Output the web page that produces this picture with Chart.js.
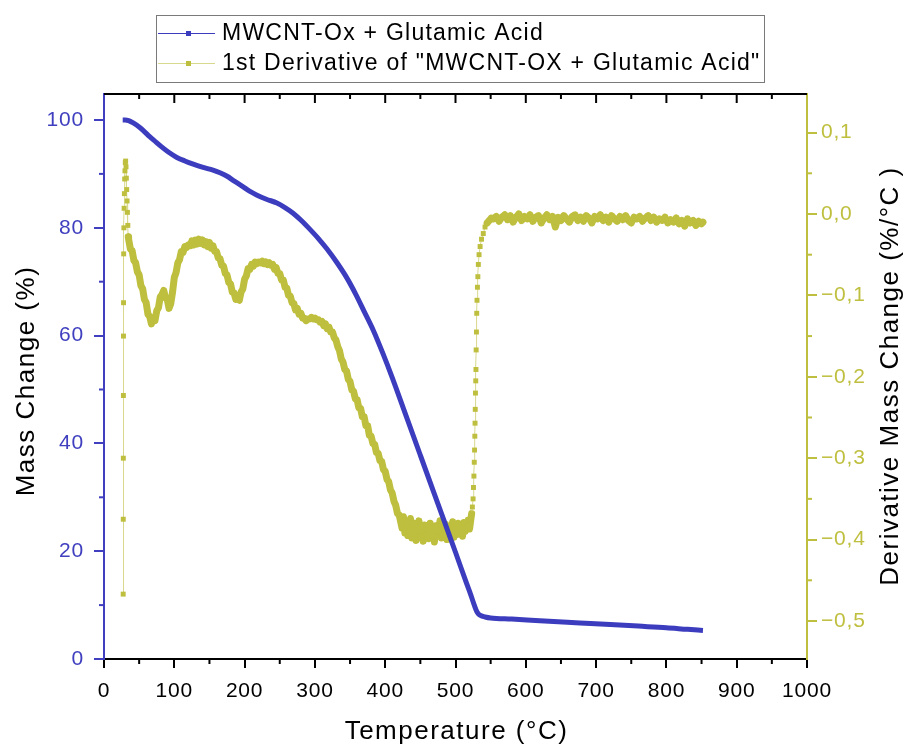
<!DOCTYPE html>
<html><head><meta charset="utf-8">
<script src="https://cdn.jsdelivr.net/npm/chart.js@4.4.1/dist/chart.umd.min.js"></script>
<style>html,body{margin:0;padding:0;background:#fff;overflow:hidden;}canvas{display:block;}</style>
</head><body>
<canvas id="c" width="905" height="747"></canvas>
<script>
// ---------- DATA ----------
const seriesNames = ['MWCNT-Ox + Glutamic Acid', '1st Derivative of "MWCNT-OX + Glutamic Acid"'];
const xTitle = 'Temperature (°C)';
const yTitle = 'Mass Change (%)';
const y2Title = 'Derivative Mass Change (%/°C )';

const xTicks = [0,100,200,300,400,500,600,700,800,900,1000];
const xMinor = [50,150,250,350,450,550,650,750,850,950];
const leftTicks = [0,20,40,60,80,100];
const leftMinor = [10,30,50,70,90];
const rightTicks = [0.1,0,-0.1,-0.2,-0.3,-0.4,-0.5];
const rightMinor = [0.05,-0.05,-0.15,-0.25,-0.35,-0.45];

const massTemp = [26.6,30,35,41,50,57,65,74,82,92,
  103,115,127,141,155,165,174.5,186,198,207,
  217,231,246,258,269,281,293,305,317,331,
  345,358,370,383,397,410,430,450,470,485,
  500,515,522,527,530,533,537,542,550,580,
  620,677,720,760,800,830,852];
const massVal = [100.0,100.0,99.9,99.5,98.7,97.9,96.9,95.9,95.0,94.0,
  93.1,92.4,91.8,91.2,90.7,90.2,89.6,88.6,87.6,86.8,
  86.1,85.3,84.6,83.7,82.7,81.3,79.7,78.0,76.1,73.6,
  70.8,67.7,64.5,61.0,56.6,52.2,45.0,37.8,30.6,25.2,
  19.8,14.3,11.8,9.9,8.9,8.3,8.0,7.8,7.6,7.4,
  7.1,6.7,6.4,6.1,5.8,5.5,5.3];

const derivTemp = [
  27.3,27.4,27.5,27.6,27.7,27.8,28.0,28.3,28.6,29.0,
  29.4,29.8,30.3,30.8,31.3,31.8,32.3,32.8,33.3,33.9,
  34.5,
  35,37.5,40,42.5,45,47.5,50,52.5,55,57.5,
  60,62.5,65,67.5,70,72.5,75,77.5,80,82.5,
  85,87.5,90,92.5,95,97.5,100,102.5,105,107.5,
  110,112.5,115,117.5,120,122.5,125,127.5,130,132.5,
  135,137.5,140,142.5,145,147.5,150,152.5,155,157.5,
  160,162.5,165,167.5,170,172.5,175,177.5,180,182.5,
  185,187.5,190,192.5,195,197.5,200,202.5,205,207.5,
  210,212.5,215,217.5,220,222.5,225,227.5,230,232.5,
  235,237.5,240,242.5,245,247.5,250,252.5,255,257.5,
  260,262.5,265,267.5,270,272.5,275,277.5,280,282.5,
  285,287.5,290,292.5,295,297.5,300,302.5,305,307.5,
  310,312.5,315,317.5,320,322.5,325,327.5,330,332.5,
  335,337.5,340,342.5,345,347.5,350,352.5,355,357.5,
  360,362.5,365,367.5,370,372.5,375,377.5,380,382.5,
  385,387.5,390,392.5,395,397.5,400,402.5,405,407.5,
  410,412.5,415,417.5,420,
  422,424,426,428,430,432,434,436,438,440,
  442,444,446,448,450,452,454,456,458,460,
  462,464,466,468,470,472,474,476,478,480,
  482,484,486,488,490,492,494,496,498,500,
  502,504,506,508,510,512,514,516,518,520,
  522,
  523,524,525,525.6,526.2,526.7,527.1,527.5,527.8,528.1,
  528.4,528.8,529.1,529.4,529.8,530.2,530.6,531.2,531.8,532.5,
  533.5,535,537,539.5,542,545,548,551,
  554,558,562,566,570,574,578,582,586,590,
  594,598,602,606,610,614,618,622,626,630,
  634,638,642,646,650,654,658,662,666,670,
  674,678,682,686,690,694,698,702,706,710,
  714,718,722,726,730,734,738,742,746,750,
  754,758,762,766,770,774,778,782,786,790,
  794,798,802,806,810,814,818,822,826,830,
  834,838,842,846,850,852];
const derivVal = [
  -0.467,-0.375,-0.300,-0.223,-0.150,-0.109,-0.049,-0.017,0.007,0.025,
  0.043,0.053,0.063,0.065,0.058,0.044,0.030,0.016,0.002,-0.014,
  -0.028,
  -0.031,-0.043,-0.045,-0.057,-0.060,-0.071,-0.075,-0.088,-0.092,-0.105,
  -0.109,-0.123,-0.126,-0.135,-0.129,-0.131,-0.119,-0.115,-0.102,-0.099,
  -0.094,-0.103,-0.105,-0.116,-0.110,-0.096,-0.078,-0.072,-0.060,-0.056,
  -0.046,-0.047,-0.040,-0.041,-0.038,-0.039,-0.033,-0.038,-0.032,-0.037,
  -0.031,-0.036,-0.032,-0.038,-0.034,-0.040,-0.035,-0.042,-0.039,-0.046,
  -0.046,-0.054,-0.055,-0.063,-0.064,-0.073,-0.075,-0.084,-0.086,-0.096,
  -0.097,-0.105,-0.104,-0.106,-0.096,-0.092,-0.080,-0.076,-0.067,-0.068,
  -0.062,-0.064,-0.059,-0.061,-0.059,-0.060,-0.058,-0.061,-0.059,-0.062,
  -0.060,-0.063,-0.062,-0.068,-0.066,-0.073,-0.073,-0.081,-0.081,-0.090,
  -0.091,-0.100,-0.101,-0.109,-0.110,-0.118,-0.116,-0.123,-0.122,-0.128,
  -0.128,-0.131,-0.129,-0.129,-0.127,-0.129,-0.128,-0.130,-0.130,-0.133,
  -0.132,-0.137,-0.135,-0.141,-0.139,-0.145,-0.145,-0.152,-0.155,-0.163,
  -0.168,-0.178,-0.182,-0.191,-0.193,-0.203,-0.206,-0.216,-0.218,-0.227,
  -0.228,-0.238,-0.239,-0.249,-0.249,-0.260,-0.260,-0.272,-0.273,-0.282,
  -0.283,-0.293,-0.294,-0.303,-0.304,-0.314,-0.316,-0.326,-0.329,-0.339,
  -0.343,-0.353,-0.358,-0.368,-0.370,
  -0.378,-0.386,-0.372,-0.392,-0.379,-0.395,-0.384,-0.374,-0.398,-0.387,
  -0.380,-0.401,-0.389,-0.377,-0.396,-0.385,-0.402,-0.382,-0.393,-0.388,
  -0.399,-0.380,-0.394,-0.385,-0.403,-0.383,-0.395,-0.389,-0.377,-0.398,
  -0.387,-0.394,-0.381,-0.400,-0.384,-0.393,-0.388,-0.378,-0.397,-0.386,
  -0.394,-0.380,-0.391,-0.384,-0.396,-0.379,-0.390,-0.383,-0.376,-0.387,
  -0.374,
  -0.368,-0.360,-0.350,-0.336,-0.322,-0.305,-0.290,-0.273,-0.257,-0.240,
  -0.220,-0.205,-0.191,-0.167,-0.145,-0.122,-0.106,-0.090,-0.077,-0.062,
  -0.050,-0.040,-0.031,-0.024,-0.016,-0.011,-0.008,-0.005,
  -0.006,-0.003,-0.009,-0.004,-0.001,-0.007,-0.002,-0.010,-0.004,0.000,
  -0.008,-0.003,-0.006,-0.001,-0.009,-0.004,-0.002,-0.011,-0.005,-0.001,
  -0.007,-0.003,-0.016,-0.004,-0.008,-0.002,-0.006,-0.010,-0.003,-0.001,
  -0.008,-0.004,-0.009,-0.002,-0.005,-0.011,-0.003,-0.006,-0.001,-0.008,
  -0.004,-0.010,-0.002,-0.006,-0.009,-0.003,-0.007,-0.002,-0.008,-0.011,
  -0.004,-0.006,-0.003,-0.009,-0.005,-0.002,-0.008,-0.004,-0.010,-0.006,
  -0.008,-0.004,-0.011,-0.007,-0.010,-0.005,-0.012,-0.008,-0.015,-0.006,
  -0.011,-0.008,-0.014,-0.009,-0.012,-0.010];

// ---------- STYLE ----------
const FONT = "'Liberation Sans', Arial, sans-serif";
const BLUE = '#3F3FBF';
const BLUE_LINE = '#3C3CBE';
const OLIVE = '#BFBF3F';
const OLIVE_LIGHT = '#D8D88E';

const zip = (xs, ys) => xs.slice(0, Math.min(xs.length, ys.length)).map((x, i) => ({x, y: ys[i]}));
const fmtRight = v => (Math.abs(v) < 1e-9 ? '0,0' : v.toFixed(1).replace('.', ',').replace('-', '\u2212'));
// dense (continuous band) parts of the derivative trace vs. sparse parts
const denseSeg = (t0, t1) => (t0 >= 34.5 && t1 <= 523) || t0 >= 545;

const deco = {
  id: 'deco',
  beforeDraw(chart) { chart.ctx.letterSpacing = '0.8px'; },
  afterDraw(chart) {
    const ctx = chart.ctx, a = chart.chartArea;
    const sx = chart.scales.x, sy = chart.scales.y, sy2 = chart.scales.y2;
    const seg = (x1, y1, x2, y2) => { ctx.beginPath(); ctx.moveTo(x1, y1); ctx.lineTo(x2, y2); ctx.stroke(); };
    ctx.save();
    ctx.lineWidth = 2;
    ctx.strokeStyle = '#000';
    seg(a.left, a.top, a.right, a.top);
    xTicks.forEach(v => { if (v > sx.min && v < sx.max) { const p = sx.getPixelForValue(v); seg(p, a.top, p, a.top + 9); } });
    xMinor.forEach(v => { const p = sx.getPixelForValue(v); seg(p, a.top, p, a.top + 5); });
    xMinor.forEach(v => { const p = sx.getPixelForValue(v); seg(p, a.bottom, p, a.bottom + 5); });
    ctx.strokeStyle = BLUE;
    leftMinor.forEach(v => { const p = sy.getPixelForValue(v); seg(a.left - 5, p, a.left, p); });
    ctx.strokeStyle = OLIVE;
    rightMinor.forEach(v => { const p = sy2.getPixelForValue(v); seg(a.right, p, a.right + 5, p); });

    // axis titles
    ctx.fillStyle = '#000';
    ctx.font = '26px ' + FONT;
    ctx.letterSpacing = '1.5px';
    ctx.textAlign = 'center';
    ctx.textBaseline = 'alphabetic';
    ctx.fillText(xTitle, (a.left + a.right) / 2 + 1, 739);
    ctx.save();
    ctx.translate(34, 381); ctx.rotate(-Math.PI / 2);
    ctx.fillText(yTitle, 0, 0);
    ctx.restore();
    ctx.save();
    ctx.translate(898, 376); ctx.rotate(-Math.PI / 2);
    ctx.fillText(y2Title, 0, 0);
    ctx.restore();

    // legend
    ctx.strokeStyle = '#7a7a7a'; ctx.lineWidth = 1;
    ctx.strokeRect(156.5, 15.5, 608, 67);
    const rows = [{y: 33, line: BLUE_LINE, mark: BLUE_LINE}, {y: 63, line: OLIVE_LIGHT, mark: OLIVE}];
    ctx.font = '23px ' + FONT;
    ctx.letterSpacing = '1.25px';
    ctx.textAlign = 'left'; ctx.textBaseline = 'middle';
    rows.forEach((r, i) => {
      ctx.strokeStyle = r.line; ctx.lineWidth = 1;
      seg(158, r.y + 0.5, 215, r.y + 0.5);
      ctx.fillStyle = r.mark; ctx.fillRect(186, r.y - 2, 5, 5);
      ctx.fillStyle = '#000';
      ctx.fillText(seriesNames[i], 222, r.y + 1);
    });
    ctx.restore();
  }
};

new Chart(document.getElementById('c'), {
  type: 'line',
  data: {
    datasets: [
      {
        label: seriesNames[0], data: zip(massTemp, massVal), yAxisID: 'y',
        borderColor: BLUE_LINE, borderWidth: 5, pointRadius: 0, cubicInterpolationMode: 'monotone',
        borderJoinStyle: 'round', fill: false
      },
      {
        label: seriesNames[1], data: zip(derivTemp, derivVal), yAxisID: 'y2',
        borderColor: OLIVE_LIGHT, borderWidth: 1, tension: 0, borderJoinStyle: 'round', borderCapStyle: 'round',
        segment: {
          borderWidth: c => denseSeg(c.p0.parsed.x, c.p1.parsed.x) ? 7 : 1,
          borderColor: c => denseSeg(c.p0.parsed.x, c.p1.parsed.x) ? OLIVE : OLIVE_LIGHT
        },
        pointStyle: 'rect', pointRadius: 3.5, pointBackgroundColor: OLIVE, pointBorderWidth: 0,
        fill: false
      }
    ]
  },
  options: {
    responsive: false, animation: false, devicePixelRatio: 1,
    layout: {padding: {top: 94, left: 0, right: 0, bottom: 0}},
    plugins: {legend: {display: false}, tooltip: {enabled: false}},
    scales: {
      x: {
        type: 'linear', position: 'bottom', min: 0, max: 1000,
        afterBuildTicks: s => { s.ticks = xTicks.map(v => ({value: v})); },
        afterFit: s => { s.height = 88; },
        grid: {display: true, drawOnChartArea: false, drawTicks: true, tickLength: 9, color: '#000', lineWidth: 2},
        border: {display: true, color: '#000', width: 2},
        ticks: {color: '#000', font: {family: FONT, size: 21}, padding: 11, maxRotation: 0, autoSkip: false, callback: v => String(v)}
      },
      y: {
        type: 'linear', position: 'left', min: 0, max: 104.82,
        afterBuildTicks: s => { s.ticks = leftTicks.map(v => ({value: v})); },
        afterFit: s => { s.width = 104; },
        grid: {display: true, drawOnChartArea: false, drawTicks: true, tickLength: 10, color: BLUE, lineWidth: 2},
        border: {display: true, color: BLUE, width: 2},
        ticks: {color: BLUE, font: {family: FONT, size: 21}, padding: 10, callback: v => String(v)}
      },
      y2: {
        type: 'linear', position: 'right', min: -0.5467, max: 0.1474,
        afterBuildTicks: s => { s.ticks = rightTicks.map(v => ({value: v})); },
        afterFit: s => { s.width = 98; },
        grid: {display: true, drawOnChartArea: false, drawTicks: true, tickLength: 10, color: OLIVE, lineWidth: 2},
        border: {display: true, color: OLIVE, width: 2},
        ticks: {color: OLIVE, font: {family: FONT, size: 21}, padding: 4, callback: v => fmtRight(v)}
      }
    }
  },
  plugins: [deco]
});
</script>
</body></html>
